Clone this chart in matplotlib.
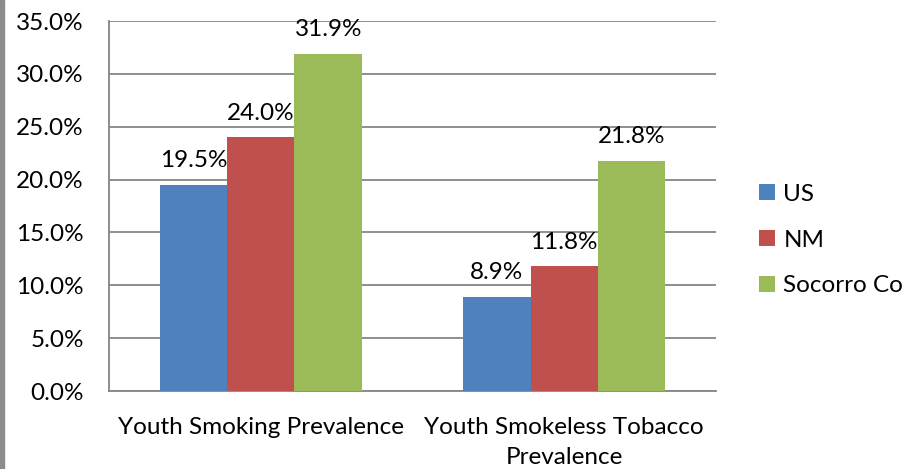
import numpy as np
import matplotlib.pyplot as plt
from matplotlib.patches import Rectangle
from matplotlib.ticker import PercentFormatter

plt.rcParams['font.family'] = ['Lato', 'DejaVu Sans']

# data
categories = ["Youth Smoking Prevalence", "Youth Smokeless Tobacco\nPrevalence"]
series_names = ["US", "NM", "Socorro Co"]
us = [19.5, 8.9]
nm = [24.0, 11.8]
socorro = [31.9, 21.8]
colors = ["#4F81BD", "#C0504D", "#9BBB59"]

fs = 17.5

fig = plt.figure(figsize=(9.2, 4.69), dpi=100)
ax = fig.add_axes([109 / 920, 1 - 391 / 469, (716 - 109) / 920, (391 - 21) / 469])

x = np.arange(len(categories))
w = 1 / 4.5
for i, (vals, name, c) in enumerate(zip([us, nm, socorro], series_names, colors)):
    bars = ax.bar(x + (i - 1) * w, vals, w, color=c, label=name, zorder=3)
    for b, v in zip(bars, vals):
        ax.text(b.get_x() + b.get_width() / 2, v + 1.3, f"{v:.1f}%",
                ha="center", va="bottom", fontsize=fs, zorder=4)

ax.set_xlim(-0.5, 1.5)
ax.set_ylim(0, 35)
ax.set_yticks(np.arange(0, 35.1, 5))
ax.yaxis.set_major_formatter(PercentFormatter(decimals=1))
ax.set_xticks(x)
ax.set_xticklabels(categories, fontsize=fs, linespacing=1.5)
ax.tick_params(axis="y", labelsize=fs, length=0, pad=18)
ax.tick_params(axis="x", length=0, pad=19)

ax.grid(axis="y", color="#868686", linewidth=1.3, zorder=0)
for s in ["top", "right"]:
    ax.spines[s].set_visible(False)
for s in ["left", "bottom"]:
    ax.spines[s].set_color("#868686")
    ax.spines[s].set_linewidth(1.3)

ax.legend(loc="center left", bbox_to_anchor=(1.035, 0.408), frameon=False,
          fontsize=fs, handlelength=0.65, handleheight=0.65, handletextpad=0.35,
          labelspacing=1.02)

# grey strip along the left edge
fig.patches.append(Rectangle((0, 0), 4 / 920, 1, transform=fig.transFigure,
                             color="#8C8C8C", zorder=5))

fig.savefig("out.png", dpi=100)
